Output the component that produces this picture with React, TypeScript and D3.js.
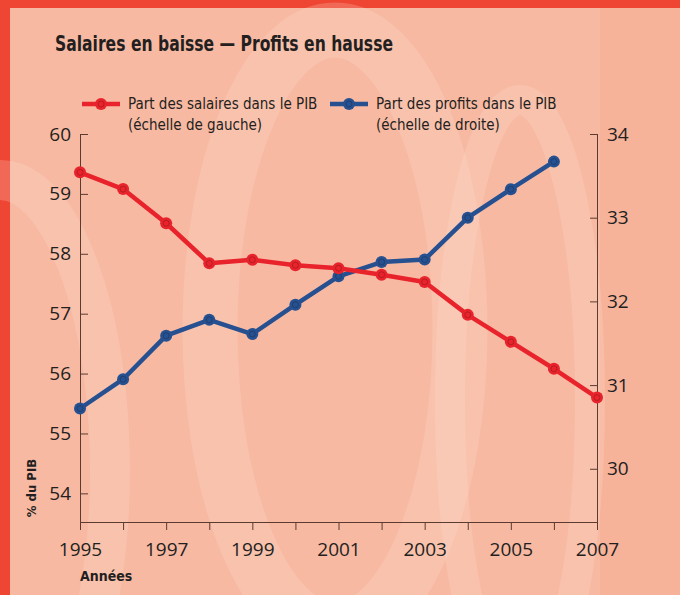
import React, { useEffect, useRef } from "react";
import * as d3 from "d3";

const years = [1995, 1996, 1997, 1998, 1999, 2000, 2001, 2002, 2003, 2004, 2005, 2006, 2007];
// part des salaires, échelle de gauche
const salaires = [59.36, 59.08, 58.51, 57.84, 57.9, 57.81, 57.76, 57.65, 57.53, 56.98, 56.53, 56.08, 55.6];
// part des profits, échelle de droite (jusqu'en 2006)
const profitYears = [1995, 1996, 1997, 1998, 1999, 2000, 2001, 2002, 2003, 2004, 2005, 2006];
const profits = [30.72, 31.07, 31.59, 31.78, 31.61, 31.96, 32.3, 32.47, 32.5, 33.0, 33.34, 33.67];
const leftTicks = [54, 55, 56, 57, 58, 59, 60];
const rightTicks = [30, 31, 32, 33, 34];
const yearLabels = [1995, 1997, 1999, 2001, 2003, 2005, 2007];

const RED = "#e8232c";
const BLUE = "#26508f";
const AXIS = "#5b3b30";
const TXT = "#231f20";
const FONT = "'Open Sans', 'Noto Sans', sans-serif";
const COND = "'Liberation Sans Narrow', 'DejaVu Sans Condensed', 'Open Sans', sans-serif";

export default function App() {
  const ref = useRef<SVGSVGElement>(null);

  useEffect(() => {
    const svg = d3.select(ref.current);
    svg.selectAll("*").remove();

    const W = 680, H = 595;
    const m = { left: 80, right: 83, top: 134, bottom: 73 };

    // background
    svg.append("rect").attr("width", W).attr("height", H).attr("fill", "#ee4632");
    svg.append("rect").attr("x", 10).attr("y", 8).attr("width", W - 10).attr("height", H - 8).attr("fill", "#f8b9a2");
    svg.append("rect").attr("x", 600).attr("y", 8).attr("width", 80).attr("height", H - 8).attr("fill", "#f6ae94").attr("opacity", 0.6);

    // decorative swirls
    const deco = svg.append("g").attr("fill", "none").attr("stroke", "#fde2d6").attr("stroke-opacity", 0.22);
    deco.append("ellipse").attr("cx", 335).attr("cy", 330).attr("rx", 125).attr("ry", 300).attr("stroke-width", 55);
    deco.append("ellipse").attr("cx", 0).attr("cy", 470).attr("rx", 110).attr("ry", 290).attr("stroke-width", 40);
    deco.append("ellipse").attr("cx", 520).attr("cy", 400).attr("rx", 70).attr("ry", 300).attr("stroke-width", 30);

    const x = d3.scaleLinear().domain([1995, 2007]).range([m.left, W - m.right]);
    const yL = d3.scaleLinear().domain([53.53, 60]).range([H - m.bottom - 0.5, m.top]);
    const yR = d3.scaleLinear().domain([29.37, 34]).range([H - m.bottom - 0.5, m.top]);

    // x axis
    const gx = svg.append("g").attr("transform", `translate(0,${H - m.bottom})`)
      .call(d3.axisBottom(x).tickValues(years).tickSize(8).tickFormat(d => yearLabels.includes(+d) ? String(d) : ""));
    gx.selectAll("path").attr("stroke", AXIS);
    gx.selectAll("line").attr("stroke", AXIS);
    gx.selectAll("text").attr("font-family", FONT).attr("font-size", 19).attr("fill", TXT).attr("dy", "1.2em");

    // left axis (ticks inward)
    const gl = svg.append("g").attr("transform", `translate(${m.left},0)`)
      .call(d3.axisRight(yL).tickValues(leftTicks).tickSize(8).tickFormat(d3.format("d")));
    gl.selectAll("path").attr("stroke", AXIS).attr("d", `M0.5,${m.top}V${H - m.bottom}`);
    gl.selectAll("line").attr("stroke", AXIS);
    gl.selectAll("text").attr("font-family", FONT).attr("font-size", 19).attr("fill", TXT)
      .attr("x", -9).attr("text-anchor", "end");

    // right axis (ticks inward)
    const gr = svg.append("g").attr("transform", `translate(${W - m.right},0)`)
      .call(d3.axisLeft(yR).tickValues(rightTicks).tickSize(7).tickFormat(d3.format("d")));
    gr.selectAll("path").attr("stroke", AXIS).attr("d", `M0.5,${m.top}V${H - m.bottom}`);
    gr.selectAll("line").attr("stroke", AXIS);
    gr.selectAll("text").attr("font-family", FONT).attr("font-size", 19).attr("fill", TXT)
      .attr("x", 10).attr("text-anchor", "start");

    // lines
    const drawSeries = (xs: number[], vals: number[], y: d3.ScaleLinear<number, number>, color: string) => {
      const pts = xs.map((d, i) => [x(d), y(vals[i])] as [number, number]);
      svg.append("path").attr("d", d3.line()(pts)).attr("fill", "none")
        .attr("stroke", color).attr("stroke-width", 4.5).attr("stroke-linejoin", "round");
      const g = svg.append("g");
      g.selectAll("circle.o").data(pts).enter().append("circle")
        .attr("cx", d => d[0]).attr("cy", d => d[1]).attr("r", 6).attr("fill", color);
      g.selectAll("circle.i").data(pts).enter().append("circle")
        .attr("cx", d => d[0]).attr("cy", d => d[1]).attr("r", 3)
        .attr("fill", "none").attr("stroke", "#000").attr("stroke-opacity", 0.25).attr("stroke-width", 0.8);
    };
    drawSeries(profitYears, profits, yR, BLUE);
    drawSeries(years, salaires, yL, RED);

    // title
    svg.append("text").attr("x", 55).attr("y", 51).text("Salaires en baisse — Profits en hausse")
      .attr("font-family", COND).attr("font-weight", "bold").attr("font-size", 21).attr("fill", TXT)
      .attr("textLength", 338).attr("lengthAdjust", "spacingAndGlyphs");

    // legend
    const legend = [
      { x: 82, color: RED, l1: "Part des salaires dans le PIB", l2: "(échelle de gauche)" },
      { x: 330, color: BLUE, l1: "Part des profits dans le PIB", l2: "(échelle de droite)" },
    ];
    legend.forEach(d => {
      svg.append("line").attr("x1", d.x).attr("x2", d.x + 38).attr("y1", 104).attr("y2", 104)
        .attr("stroke", d.color).attr("stroke-width", 4.5);
      svg.append("circle").attr("cx", d.x + 19).attr("cy", 104).attr("r", 6).attr("fill", d.color);
      svg.append("circle").attr("cx", d.x + 19).attr("cy", 104).attr("r", 3).attr("fill", "none")
        .attr("stroke", "#000").attr("stroke-opacity", 0.25).attr("stroke-width", 0.8);
      svg.append("text").attr("x", d.x + 46).attr("y", 109).text(d.l1)
        .attr("font-family", COND).attr("font-size", 15).attr("fill", TXT);
      svg.append("text").attr("x", d.x + 46).attr("y", 130).text(d.l2)
        .attr("font-family", COND).attr("font-size", 15).attr("fill", TXT);
    });

    // axis titles
    svg.append("text").attr("transform", "translate(36,488) rotate(-90)").attr("text-anchor", "middle")
      .text("% du PIB").attr("font-family", COND).attr("font-weight", "bold").attr("font-size", 13).attr("fill", TXT);
    svg.append("text").attr("x", 80).attr("y", 581).text("Années")
      .attr("font-family", COND).attr("font-weight", "bold").attr("font-size", 14).attr("fill", TXT);
  }, []);

  return (
    <svg ref={ref} width={680} height={595} style={{ position: "absolute", left: 0, top: 0 }} />
  );
}
